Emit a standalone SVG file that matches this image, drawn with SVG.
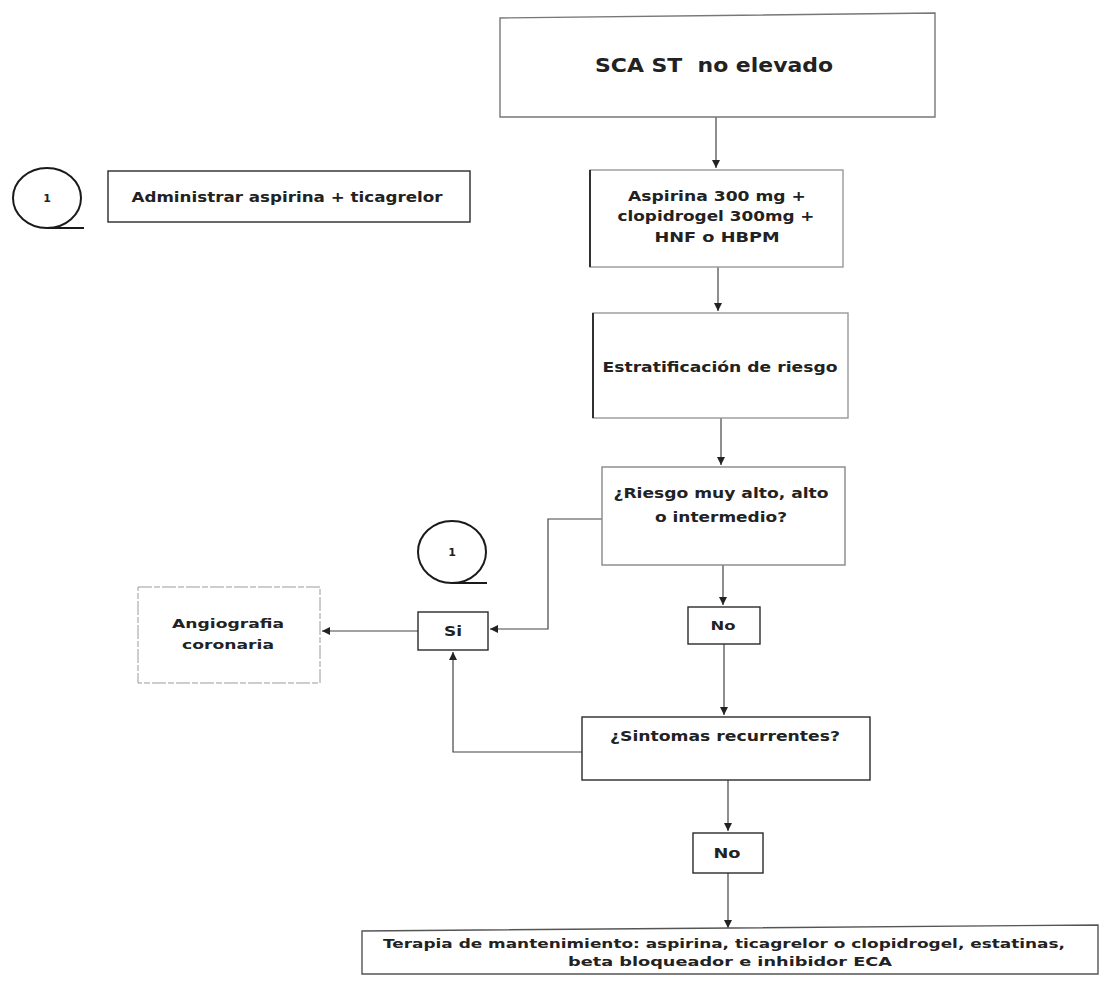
<svg xmlns="http://www.w3.org/2000/svg" width="1101" height="982" viewBox="0 0 1101 982">
<style>
.box{fill:#fff;stroke:#2a2a2a;stroke-width:1.4}
.faint{fill:#fff;stroke:#9a9a9a;stroke-width:1;stroke-dasharray:14 2 6 2}
.t{font-family:"DejaVu Sans","Liberation Sans",sans-serif;font-weight:bold;fill:#222;text-anchor:middle}
.c{fill:none;stroke:#444;stroke-width:1.2}
.ring{fill:none;stroke:#1a1a1a;stroke-width:2}
</style>
<defs>
<marker id="ah" markerUnits="userSpaceOnUse" markerWidth="9" markerHeight="8" refX="8" refY="4" orient="auto">
<path d="M0,0 L8,4 L0,8 z" fill="#222"/>
</marker>
</defs>
<rect width="1101" height="982" fill="#fff"/>

<g id="connectors">
<path class="c" d="M716 117 V168" marker-end="url(#ah)"/>
<path class="c" d="M718 267 V311" marker-end="url(#ah)"/>
<path class="c" d="M721 418 V465" marker-end="url(#ah)"/>
<path class="c" d="M602 519 H548 V629 H490" marker-end="url(#ah)"/>
<path class="c" d="M723 565 V605" marker-end="url(#ah)"/>
<path class="c" d="M724 644 V715" marker-end="url(#ah)"/>
<path class="c" d="M582 752 H453 V652" marker-end="url(#ah)"/>
<path class="c" d="M418 631 H322" marker-end="url(#ah)"/>
<path class="c" d="M728 780 V831" marker-end="url(#ah)"/>
<path class="c" d="M728 873 V928" marker-end="url(#ah)"/>
</g>

<g id="circle1a">
<ellipse class="ring" cx="47" cy="198" rx="34" ry="30"/>
<line class="ring" x1="47" y1="228" x2="84" y2="228"/>
<text class="t" x="47" y="202" font-size="11">1</text>
</g>

<g id="administrar">
<rect class="box" x="108" y="171" width="362" height="51"/>
<text class="t" x="287" y="202" font-size="14" textLength="311" lengthAdjust="spacingAndGlyphs">Administrar aspirina + ticagrelor</text>
</g>

<g id="sca">
<path class="box" d="M500 18 L935 13 L935 117 L500 117 Z" style="stroke:#777"/>
<text class="t" x="714" y="72" font-size="20" textLength="238" lengthAdjust="spacingAndGlyphs" xml:space="preserve">SCA ST  no elevado</text>
</g>

<g id="aspirina">
<rect class="box" x="590" y="170" width="253" height="97" style="stroke:#999"/>
<line x1="590" y1="170" x2="590" y2="267" stroke="#222" stroke-width="1.8"/>
<text class="t" x="717" y="201" font-size="14" textLength="178" lengthAdjust="spacingAndGlyphs">Aspirina 300 mg +</text>
<text class="t" x="716" y="221" font-size="14" textLength="197" lengthAdjust="spacingAndGlyphs">clopidrogel 300mg +</text>
<text class="t" x="717" y="242" font-size="14" textLength="125" lengthAdjust="spacingAndGlyphs">HNF o HBPM</text>
</g>

<g id="estratificacion">
<rect class="box" x="593" y="313" width="255" height="105" style="stroke:#999"/>
<line x1="593" y1="313" x2="593" y2="418" stroke="#222" stroke-width="1.8"/>
<text class="t" x="720" y="372" font-size="14" textLength="235" lengthAdjust="spacingAndGlyphs">Estratificación de riesgo</text>
</g>

<g id="riesgo">
<rect class="box" x="602" y="467" width="243" height="98" style="stroke:#888"/>
<text class="t" x="721" y="498" font-size="14" textLength="215" lengthAdjust="spacingAndGlyphs">¿Riesgo muy alto, alto</text>
<text class="t" x="721" y="522" font-size="14" textLength="132" lengthAdjust="spacingAndGlyphs">o intermedio?</text>
</g>

<g id="circle1b">
<ellipse class="ring" cx="452" cy="552" rx="34" ry="31"/>
<line class="ring" x1="452" y1="583" x2="487" y2="583"/>
<text class="t" x="452" y="556" font-size="11">1</text>
</g>

<g id="si">
<rect class="box" x="418" y="612" width="70" height="38"/>
<text class="t" x="453" y="636" font-size="14" textLength="18" lengthAdjust="spacingAndGlyphs">Si</text>
</g>

<g id="angiografia">
<rect class="faint" x="138" y="587" width="182" height="96"/>
<text class="t" x="228" y="628" font-size="13" textLength="112" lengthAdjust="spacingAndGlyphs">Angiografia</text>
<text class="t" x="228" y="649" font-size="13" textLength="92" lengthAdjust="spacingAndGlyphs">coronaria</text>
</g>

<g id="no1">
<rect class="box" x="688" y="607" width="72" height="37"/>
<text class="t" x="723" y="630" font-size="12" textLength="25" lengthAdjust="spacingAndGlyphs">No</text>
</g>

<g id="sintomas">
<rect class="box" x="582" y="717" width="288" height="63"/>
<text class="t" x="725" y="741" font-size="14" textLength="230" lengthAdjust="spacingAndGlyphs">¿Sintomas recurrentes?</text>
</g>

<g id="no2">
<rect class="box" x="693" y="833" width="70" height="40"/>
<text class="t" x="727" y="858" font-size="14" textLength="27" lengthAdjust="spacingAndGlyphs">No</text>
</g>

<g id="terapia">
<path class="box" d="M362 931 L1098 925 L1098 974 L362 974 Z" style="stroke:#555"/>
<text class="t" x="724" y="948" font-size="13" textLength="682" lengthAdjust="spacingAndGlyphs">Terapia de mantenimiento: aspirina, ticagrelor o clopidrogel, estatinas,</text>
<text class="t" x="730" y="966" font-size="13" textLength="324" lengthAdjust="spacingAndGlyphs">beta bloqueador e inhibidor ECA</text>
</g>
</svg>
